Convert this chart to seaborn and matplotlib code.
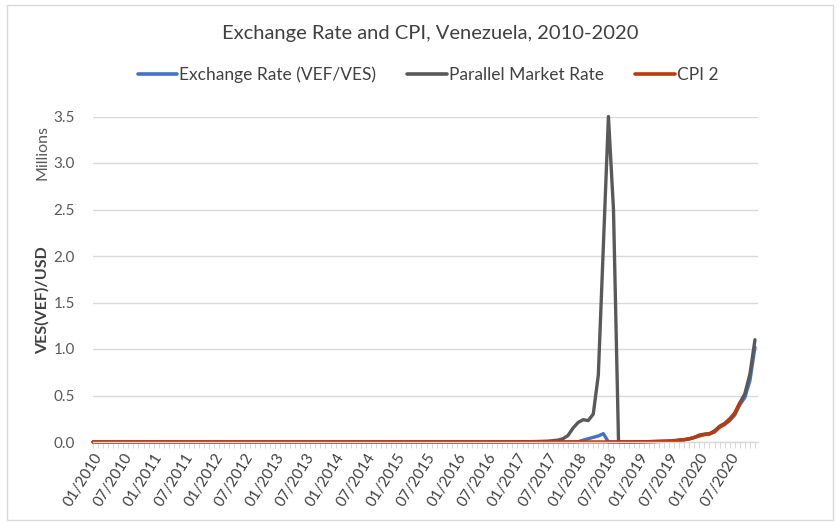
import numpy as np
import pandas as pd
import matplotlib
matplotlib.use("Agg")
import matplotlib.pyplot as plt
import seaborn as sns
from matplotlib.patches import Rectangle
from matplotlib.lines import Line2D
from matplotlib.ticker import MultipleLocator, FixedLocator

# ---------------- data (millions) ----------------
months = [f"{m:02d}/{y}" for y in range(2010, 2021) for m in range(1, 13)]

exchange_rate = [
    # 2010
    0.0, 0.0, 0.0, 0.0, 0.0, 0.0, 0.0, 0.0, 0.0, 0.0, 0.0, 0.0,
    # 2011
    0.0, 0.0, 0.0, 0.0, 0.0, 0.0, 0.0, 0.0, 0.0, 0.0, 0.0, 0.0,
    # 2012
    0.0, 0.0, 0.0, 0.0, 0.0, 0.0, 0.0, 0.0, 0.0, 0.0, 0.0, 0.0,
    # 2013
    0.0, 0.0, 0.0, 0.0, 0.0, 0.0, 0.0, 0.0, 0.0, 0.0, 0.0, 0.0,
    # 2014
    0.0, 0.0, 0.0, 0.0, 0.0, 0.0, 0.0, 0.0, 0.0, 0.0, 0.0, 0.0,
    # 2015
    0.0, 0.0, 0.0, 0.0, 0.0, 0.0, 0.0, 0.0, 0.0, 0.0, 0.0, 0.0,
    # 2016
    0.0, 0.0, 0.0, 0.0, 0.0, 0.0, 0.0, 0.0, 0.0, 0.0, 0.0, 0.0,
    # 2017
    0.0, 0.0, 0.0, 0.0, 0.0, 0.001, 0.001, 0.001, 0.001, 0.001, 0.001, 0.002,
    # 2018
    0.003, 0.02, 0.035, 0.05, 0.065, 0.09, 0.0, 0.0001, 0.0001, 0.0001, 0.0002, 0.0006,
    # 2019
    0.002, 0.003, 0.004, 0.005, 0.006, 0.007, 0.009, 0.014, 0.019, 0.024, 0.033, 0.047,
    # 2020
    0.07, 0.08, 0.085, 0.11, 0.16, 0.19, 0.23, 0.29, 0.40, 0.48, 0.66, 1.02,
]

parallel_rate = [
    # 2010
    0.0, 0.0, 0.0, 0.0, 0.0, 0.0, 0.0, 0.0, 0.0, 0.0, 0.0, 0.0,
    # 2011
    0.0, 0.0, 0.0, 0.0, 0.0, 0.0, 0.0, 0.0, 0.0, 0.0, 0.0, 0.0,
    # 2012
    0.0, 0.0, 0.0, 0.0, 0.0, 0.0, 0.0, 0.0, 0.0, 0.0, 0.0, 0.0,
    # 2013
    0.0, 0.0, 0.0, 0.0, 0.0, 0.0, 0.0, 0.0, 0.0, 0.0, 0.0, 0.0,
    # 2014
    0.0, 0.0, 0.0, 0.0, 0.0, 0.0, 0.0, 0.0, 0.0, 0.0, 0.0, 0.0,
    # 2015
    0.0002, 0.0002, 0.0003, 0.0003, 0.0004, 0.0004, 0.0006, 0.0007, 0.0007, 0.0008, 0.0008, 0.0009,
    # 2016
    0.001, 0.001, 0.001, 0.001, 0.001, 0.001, 0.001, 0.001, 0.001, 0.0014, 0.0015, 0.003,
    # 2017
    0.003, 0.004, 0.004, 0.004, 0.006, 0.008, 0.009, 0.015, 0.02, 0.035, 0.07, 0.15,
    # 2018
    0.21, 0.24, 0.23, 0.30, 0.72, 2.1, 3.5, 2.5, 0.0001, 0.0001, 0.0002, 0.0006,
    # 2019
    0.002, 0.003, 0.004, 0.005, 0.006, 0.007, 0.009, 0.015, 0.02, 0.025, 0.035, 0.05,
    # 2020
    0.075, 0.085, 0.09, 0.12, 0.17, 0.20, 0.25, 0.31, 0.42, 0.52, 0.73, 1.10,
]

cpi_2 = [
    # 2010
    0.0, 0.0, 0.0, 0.0, 0.0, 0.0, 0.0, 0.0, 0.0, 0.0, 0.0, 0.0,
    # 2011
    0.0, 0.0, 0.0, 0.0, 0.0, 0.0, 0.0, 0.0, 0.0, 0.0, 0.0, 0.0,
    # 2012
    0.0, 0.0, 0.0, 0.0, 0.0, 0.0, 0.0, 0.0, 0.0, 0.0, 0.0, 0.0,
    # 2013
    0.0, 0.0, 0.0, 0.0, 0.0, 0.0, 0.0, 0.0, 0.0, 0.0, 0.0, 0.0,
    # 2014
    0.0, 0.0, 0.0, 0.0, 0.0, 0.0, 0.0, 0.0, 0.0, 0.0, 0.0, 0.0,
    # 2015
    0.0, 0.0, 0.0, 0.0, 0.0, 0.0, 0.0, 0.0, 0.0, 0.0, 0.0, 0.0,
    # 2016
    0.0, 0.0, 0.0, 0.0, 0.0, 0.0, 0.0, 0.0, 0.0, 0.0, 0.0, 0.0,
    # 2017
    0.0, 0.0, 0.0, 0.0, 0.0, 0.0, 0.0, 0.0, 0.0, 0.0, 0.0, 0.0,
    # 2018
    0.0, 0.0, 0.0, 0.0, 0.0, 0.0, 0.0, 0.0, 0.0, 0.0, 0.0, 0.0,
    # 2019
    0.001, 0.002, 0.003, 0.004, 0.005, 0.006, 0.008, 0.012, 0.018, 0.025, 0.035, 0.05,
    # 2020
    0.065, 0.08, 0.088, 0.11, 0.16, 0.19, 0.24, 0.31, 0.42, np.nan, np.nan, np.nan,
]

series_names = ["Exchange Rate (VEF/VES)", "Parallel Market Rate", "CPI 2"]
series_colors = ["#4472C4", "#595959", "#C0390B"]

tick_labels = [months[i] for i in range(0, len(months), 6)]

# ---------------- build long-form table ----------------
idx = np.arange(len(months))
df = pd.concat([
    pd.DataFrame({"idx": idx, "value": exchange_rate, "series": series_names[0]}),
    pd.DataFrame({"idx": idx, "value": parallel_rate, "series": series_names[1]}),
    pd.DataFrame({"idx": idx, "value": cpi_2, "series": series_names[2]}),
], ignore_index=True).dropna()

# ---------------- plot ----------------
sns.set_theme(style="white")
plt.rcParams["font.family"] = ["Lato", "DejaVu Sans"]

W, H = 839, 523
fig = plt.figure(figsize=(W / 100, H / 100), dpi=100)
ax = fig.add_axes([93 / W, 1 - 442 / H, (758 - 93) / W, (442 - 116.5) / H])

sns.lineplot(data=df, x="idx", y="value", hue="series", hue_order=series_names,
             palette=series_colors, linewidth=2.4, ax=ax, legend=False,
             estimator=None, sort=True)
for ln in ax.lines:
    ln.set_clip_on(False)
    ln.set_solid_joinstyle("round")

ax.set_xlim(0, 131.6)
ax.set_ylim(0, 3.5)
ax.yaxis.set_major_locator(MultipleLocator(0.5))
ax.set_yticklabels([f"{v:.1f}" for v in ax.get_yticks()])
ax.grid(axis="y", color="#D9D9D9", linewidth=1.0)
ax.set_axisbelow(True)
for s in ["top", "right", "left"]:
    ax.spines[s].set_visible(False)
ax.spines["bottom"].set_color("#D9D9D9")
ax.spines["bottom"].set_linewidth(1.0)

ax.xaxis.set_major_locator(FixedLocator(list(range(0, len(months), 6))))
ax.xaxis.set_minor_locator(FixedLocator(list(range(0, len(months) + 1))))
ax.set_xticklabels(tick_labels, rotation=58, ha="right", va="top",
                   rotation_mode="anchor", fontsize=11, color="#404040")
ax.tick_params(axis="x", which="both", direction="out", length=4, width=0.8,
               color="#D9D9D9", pad=2, bottom=True)
ax.tick_params(axis="y", length=0, labelsize=11, labelcolor="#595959", pad=13)
ax.set_xlabel("")
ax.set_ylabel("")

# axis titles
fig.text(42 / W, 1 - 300 / H, "VES(VEF)/USD", rotation=90, ha="center", va="center",
         fontsize=11.5, color="#404040", fontweight="bold")
fig.text(42 / W, 1 - 152 / H, "Millions", rotation=90, ha="center", va="center",
         fontsize=11.5, color="#595959")

# title
fig.text(430 / W, 1 - 33 / H, "Exchange Rate and CPI, Venezuela, 2010-2020",
         ha="center", va="center", fontsize=14.5, color="#404040")

# legend
handles = [Line2D([0], [0], color=c, linewidth=2.6) for c in series_colors]
fig.legend(handles, series_names, loc="center", bbox_to_anchor=(428 / W, 1 - 75 / H),
           ncol=3, frameon=False, fontsize=12.5, handlelength=2.3, handletextpad=0.1,
           columnspacing=1.8, labelcolor="#404040")

# outer chart border
fig.patches.append(Rectangle((7 / W, 1 - 520 / H), (833 - 7) / W, (520 - 5) / H,
                             transform=fig.transFigure, fill=False,
                             edgecolor="#D9D9D9", linewidth=1.0))

fig.savefig("out.png", dpi=100)
